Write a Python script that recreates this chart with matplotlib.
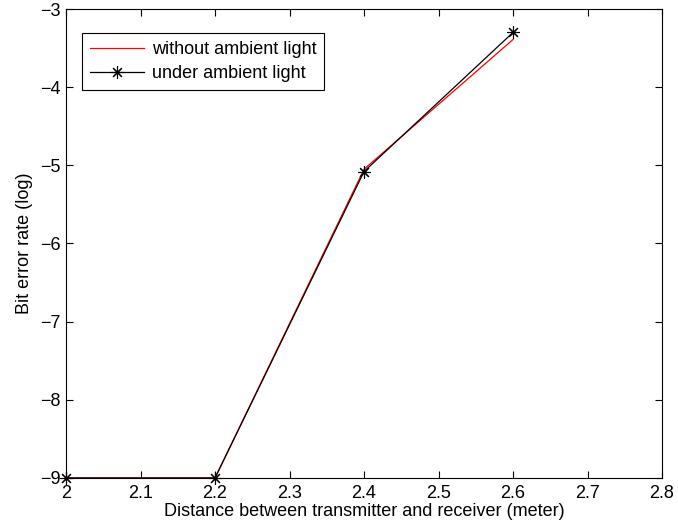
import matplotlib
matplotlib.use('Agg')
import matplotlib.pyplot as plt

distance = [2.0, 2.2, 2.4, 2.6]
ber_no_light = [-9.0, -9.0, -5.05, -3.39]
ber_ambient = [-9.0, -9.0, -5.08, -3.30]
xticks = [2, 2.1, 2.2, 2.3, 2.4, 2.5, 2.6, 2.7, 2.8]
xtick_labels = ['2', '2.1', '2.2', '2.3', '2.4', '2.5', '2.6', '2.7', '2.8']
yticks = [-9, -8, -7, -6, -5, -4, -3]

plt.rcParams['font.family'] = ['Liberation Sans', 'DejaVu Sans']
plt.rcParams['axes.unicode_minus'] = True

fig = plt.figure(figsize=(6.78, 5.31), dpi=100)
ax = fig.add_axes([66 / 678, 1 - 478 / 531, 596 / 678, 469 / 531])

ax.plot(distance, ber_no_light, color='red', lw=0.9, label='without ambient light')
# matlab style '*' marker: 8 spokes
ax.plot(distance, ber_ambient, color='black', lw=0.9, marker=(8, 2, 0), ms=9,
        markeredgewidth=0.8, clip_on=False, label='under ambient light')

ax.set_xlim(2, 2.8)
ax.set_ylim(-9, -3)
ax.set_xticks(xticks)
ax.set_xticklabels(xtick_labels)
ax.set_yticks(yticks)
ax.tick_params(direction='in', top=True, right=True, labelsize=13, length=5)
ax.tick_params(axis='x', pad=5)
ax.tick_params(axis='y', pad=4)
for s in ax.spines.values():
    s.set_linewidth(0.8)

ax.set_xlabel('Distance between transmitter and receiver (meter)', fontsize=13, labelpad=1)
ax.set_ylabel('Bit error rate (log)', fontsize=13, labelpad=5)

leg = ax.legend(loc='upper left', bbox_to_anchor=(0.027, 0.949), fontsize=13,
                fancybox=False, edgecolor='black', framealpha=1,
                handlelength=3.0, handletextpad=0.4, borderpad=0.45,
                labelspacing=0.4, borderaxespad=0)
leg.get_frame().set_linewidth(0.8)

fig.savefig('out.png', dpi=100)
